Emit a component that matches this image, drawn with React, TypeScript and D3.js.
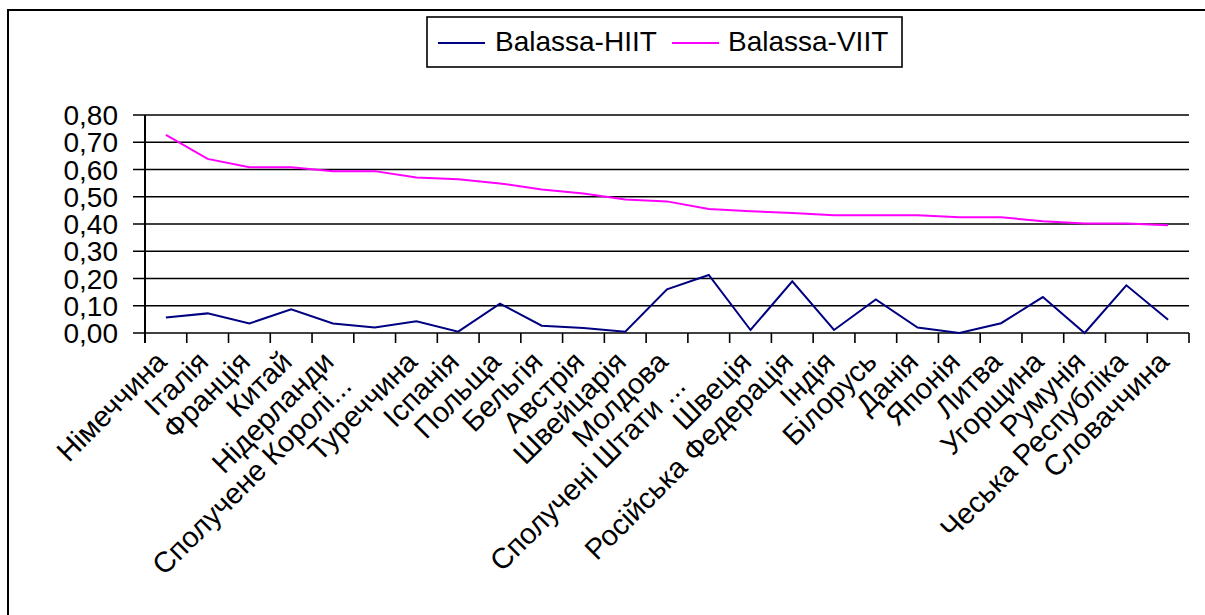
import React from "react";
import * as d3 from "d3";

const categories = [
  "Німеччина", "Італія", "Франція", "Китай", "Нідерланди", "Сполучене Королі...",
  "Туреччина", "Іспанія", "Польща", "Бельгія", "Австрія", "Швейцарія", "Молдова",
  "Сполучені Штати ...", "Швеція", "Російська Федерація", "Індія", "Білорусь",
  "Данія", "Японія", "Литва", "Угорщина", "Румунія", "Чеська Республіка", "Словаччина",
];
const hiit = [
  0.057, 0.072, 0.035, 0.087, 0.035, 0.02, 0.043, 0.005, 0.108, 0.027, 0.018, 0.005, 0.16,
  0.213, 0.011, 0.19, 0.011, 0.123, 0.02, 0.0, 0.036, 0.132, 0.0, 0.175, 0.049,
];
const viit = [
  0.727, 0.639, 0.608, 0.608, 0.594, 0.594, 0.571, 0.564, 0.549, 0.527, 0.512, 0.49, 0.483,
  0.455, 0.447, 0.44, 0.432, 0.432, 0.432, 0.425, 0.425, 0.41, 0.402, 0.402, 0.395,
];
const yTicks = [0, 0.1, 0.2, 0.3, 0.4, 0.5, 0.6, 0.7, 0.8];
const seriesNames = ["Balassa-HIIT", "Balassa-VIIT"];
const seriesColors = ["#000080", "#FF00FF"];

const FONT = "'Liberation Sans', Arial, sans-serif";

export default function App() {
  const left = 145, right = 1189, top = 115, bottom = 333;
  const x = d3.scaleBand<string>().domain(categories).range([left, right]).paddingInner(0).paddingOuter(0);
  const y = d3.scaleLinear().domain([0, 0.8]).range([bottom, top]);
  const cx = (c: string) => (x(c) as number) + x.bandwidth() / 2;
  const line = d3.line<number>().x((_, i) => cx(categories[i])).y((d) => y(d));
  const fmt = (v: number) => v.toFixed(2).replace(".", ",");
  const bounds = d3.range(categories.length + 1).map((i) => left + i * x.bandwidth());

  return (
    <div style={{ position: "absolute", left: 0, top: 0 }}>
      <svg width={1205} height={615} style={{ display: "block", background: "#fff" }}>
        <rect x={8} y={10} width={1300} height={700} fill="#fff" stroke="#000" strokeWidth={2} />
        {yTicks.map((t) => (
          <g key={t}>
            <line x1={133} x2={right} y1={y(t)} y2={y(t)} stroke="#000" strokeWidth={1.6} />
            <text x={118} y={y(t)} dy="0.36em" textAnchor="end" fontFamily={FONT} fontSize={28} fill="#000">
              {fmt(t)}
            </text>
          </g>
        ))}
        <line x1={left} x2={left} y1={top} y2={bottom + 10} stroke="#000" strokeWidth={2} />
        {bounds.map((bx, i) => (
          <line key={i} x1={bx} x2={bx} y1={bottom} y2={bottom + 10} stroke="#000" strokeWidth={1.6} />
        ))}
        <path d={line(hiit) || ""} fill="none" stroke={seriesColors[0]} strokeWidth={2} />
        <path d={line(viit) || ""} fill="none" stroke={seriesColors[1]} strokeWidth={2} />
        {categories.map((c) => {
          const trunc = c.endsWith("...");
          const ax = cx(c) - 12 - (trunc ? 24 : 0);
          const ay = bottom + 16 + (trunc ? 24 : 0);
          return (
            <text
              key={c}
              transform={`translate(${ax},${ay}) rotate(-45)`}
              dy="0.71em"
              textAnchor="end"
              fontFamily={FONT}
              fontSize={29}
              fill="#000"
            >
              {c}
            </text>
          );
        })}
        <rect x={427} y={17} width={475} height={50} fill="#fff" stroke="#000" strokeWidth={1.6} />
        <line x1={438} x2={485} y1={43} y2={43} stroke={seriesColors[0]} strokeWidth={2} />
        <text x={495} y={51} fontFamily={FONT} fontSize={28} fill="#000">{seriesNames[0]}</text>
        <line x1={672} x2={719} y1={43} y2={43} stroke={seriesColors[1]} strokeWidth={2} />
        <text x={728} y={51} fontFamily={FONT} fontSize={28} fill="#000">{seriesNames[1]}</text>
      </svg>
    </div>
  );
}
